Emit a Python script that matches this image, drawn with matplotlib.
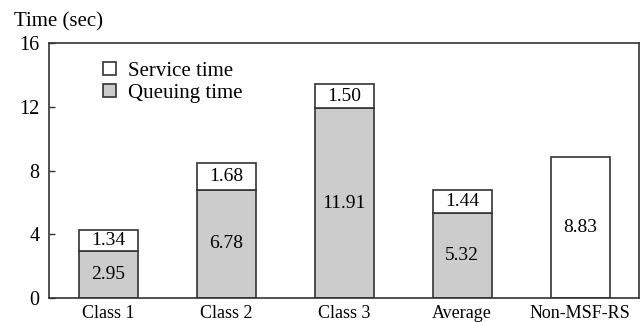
import numpy as np
import matplotlib.pyplot as plt

plt.rcParams['font.family'] = ['Liberation Serif', 'DejaVu Serif']

categories = ["Class 1", "Class 2", "Class 3", "Average", "Non-MSF-RS"]
queuing = [2.95, 6.78, 11.91, 5.32, 0.0]
service = [1.34, 1.68, 1.50, 1.44, 8.83]

edge = "#333333"
gray = "#cccccc"

fig = plt.figure(figsize=(6.43, 3.22), dpi=100)
ax = fig.add_axes([49/643, 24/322, 590/643, 255/322])

x = np.arange(len(categories))
w = 0.5
q_bars = ax.bar(x, queuing, w, color=gray, edgecolor=edge, linewidth=1.2,
                label="Queuing time")
s_bars = ax.bar(x, service, w, bottom=queuing, color="white", edgecolor=edge,
                linewidth=1.2, label="Service time")

# value labels centred in each segment
for i in range(len(categories)):
    if queuing[i] > 0:
        ax.text(x[i], queuing[i] / 2, f"{queuing[i]:.2f}", ha="center",
                va="center", fontsize=14)
    ax.text(x[i], queuing[i] + service[i] / 2, f"{service[i]:.2f}",
            ha="center", va="center", fontsize=14)

ax.set_xlim(-0.5, 4.5)
ax.set_ylim(0, 16)
ax.set_yticks([0, 4, 8, 12, 16])
ax.set_xticks(x)
ax.set_xticklabels(categories, fontsize=13)
ax.tick_params(axis="x", length=0, pad=5)
ax.tick_params(axis="y", direction="in", labelsize=14.5, length=4.5,
               width=1, color=edge, pad=7)
for sp in ax.spines.values():
    sp.set_color(edge)
    sp.set_linewidth(1.2)

fig.text(14/643, 1 - 22/322, "Time (sec)", fontsize=15, va="center")

ax.legend(handles=[s_bars, q_bars], loc="upper left",
          bbox_to_anchor=(0.06, 1.0), frameon=False, fontsize=15,
          handlelength=0.6, handleheight=0.6, handletextpad=0.6,
          labelspacing=0.15)

fig.savefig("out.png", dpi=100)
